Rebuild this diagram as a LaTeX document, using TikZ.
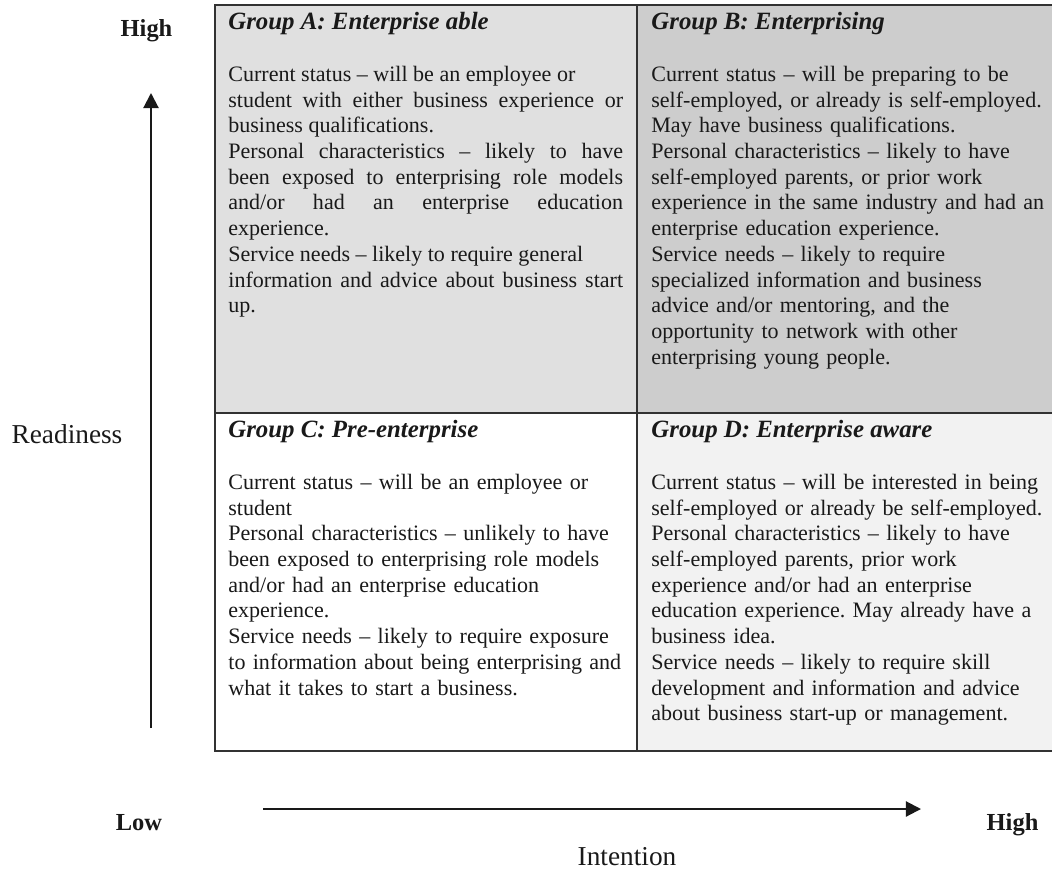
\documentclass[tikz,border=0pt]{standalone}
\usepackage{fontspec}
\setmainfont{Liberation Serif}
\usetikzlibrary{arrows.meta}
\frenchspacing
\definecolor{fillA}{RGB}{224,224,224}
\definecolor{fillB}{RGB}{205,205,205}
\definecolor{fillD}{RGB}{242,242,242}
\definecolor{gridc}{RGB}{50,50,50}
\definecolor{txt}{RGB}{25,25,25}
\begin{document}
\begin{tikzpicture}[x=0.531pt,y=-0.531pt,
  cell/.style={draw=none,inner sep=0pt,outer sep=0pt,anchor=north west},
  gridline/.style={draw=gridc,line width=1.06pt,line cap=rect},
  axisarrow/.style={draw=txt,line width=1.1pt,-{Triangle[length=8pt,width=8pt]}},
  head/.style={inner sep=0pt,anchor=base west,text=txt,font=\fontsize{13.2}{15}\selectfont\bfseries\itshape},
  body/.style={inner sep=0pt,anchor=north west,text=txt,text width=216pt,align=left,
    font=\fontsize{11.7}{13.65}\selectfont\frenchspacing},
  bodyj/.style={body,text width=209.6pt,align=justify},
  axislab/.style={inner sep=0pt,anchor=base,text=txt,font=\fontsize{14.5}{16}\selectfont},
  axisbold/.style={inner sep=0pt,anchor=base,text=txt,font=\fontsize{13}{15}\selectfont\bfseries}]
\useasboundingbox (0,0) rectangle (1052,869);
% cells
\node[cell,fill=fillA,minimum width=224.1pt,minimum height=216.6pt] (A) at (215,5) {};
\node[cell,fill=fillB,minimum width=220.4pt,minimum height=216.6pt] (B) at (637,5) {};
\node[cell,fill=white,minimum width=224.1pt,minimum height=179.5pt] (C) at (215,413) {};
\node[cell,fill=fillD,minimum width=220.4pt,minimum height=179.5pt] (D) at (637,413) {};
% grid lines
\draw[gridline] (A.north west) -- (B.north east);
\draw[gridline] (A.south west) -- (B.south east);
\draw[gridline] (C.south west) -- (D.south east);
\draw[gridline] (A.north west) -- (C.south west);
\draw[gridline] (A.north east) -- (C.south east);
% headings
\node[head] (hA) at (228,29) {Group A: Enterprise able};
\node[head] (hB) at (651,29) {Group B: Enterprising};
\node[head] (hC) at (228,437) {Group C: Pre-enterprise};
\node[head] (hD) at (651,437) {Group D: Enterprise aware};
% bodies
\node[bodyj] (tA) at (228,63) {\strut Current status – will be an employee or\\
student with either business experience or\linebreak
business qualifications.\\
Personal characteristics – likely to have\linebreak
been exposed to enterprising role models\linebreak
and/or had an enterprise education\linebreak
experience.\\
Service needs – likely to require general\\
information and advice about business start\linebreak
up.};
\node[body] (tB) at (651,63) {\strut Current status – will be preparing to be\\
self-employed, or already is self-employed.\\
May have business qualifications.\\
Personal characteristics – likely to have\\
self-employed parents, or prior work\\
experience in the same industry and had an\\
enterprise education experience.\\
Service needs – likely to require\\
specialized information and business\\
advice and/or mentoring, and the\\
opportunity to network with other\\
enterprising young people.};
\node[body] (tC) at (228,471) {\strut Current status – will be an employee or\\
student\\
Personal characteristics – unlikely to have\\
been exposed to enterprising role models\\
and/or had an enterprise education\\
experience.\\
Service needs – likely to require exposure\\
to information about being enterprising and\\
what it takes to start a business.};
\node[body] (tD) at (651,471) {\strut Current status – will be interested in being\\
self-employed or already be self-employed.\\
Personal characteristics – likely to have\\
self-employed parents, prior work\\
experience and/or had an enterprise\\
education experience. May already have a\\
business idea.\\
Service needs – likely to require skill\\
development and information and advice\\
about business start-up or management.};
% axes
\node[axisbold] (rhigh) at (146.5,36) {High};
\node[axislab] (readiness) at (67,443) {Readiness};
\node[axisbold] (low) at (139,830) {Low};
\node[axisbold] (ihigh) at (1012.5,830) {High};
\node[axislab] (intention) at (627,865) {Intention};
\coordinate (vstart) at (151,728);
\coordinate (vend) at (151,93);
\coordinate (hstart) at (263,809);
\coordinate (hend) at (921,809);
\draw[axisarrow] (vstart) -- (vend);
\draw[axisarrow] (hstart) -- (hend);
\end{tikzpicture}
\end{document}
